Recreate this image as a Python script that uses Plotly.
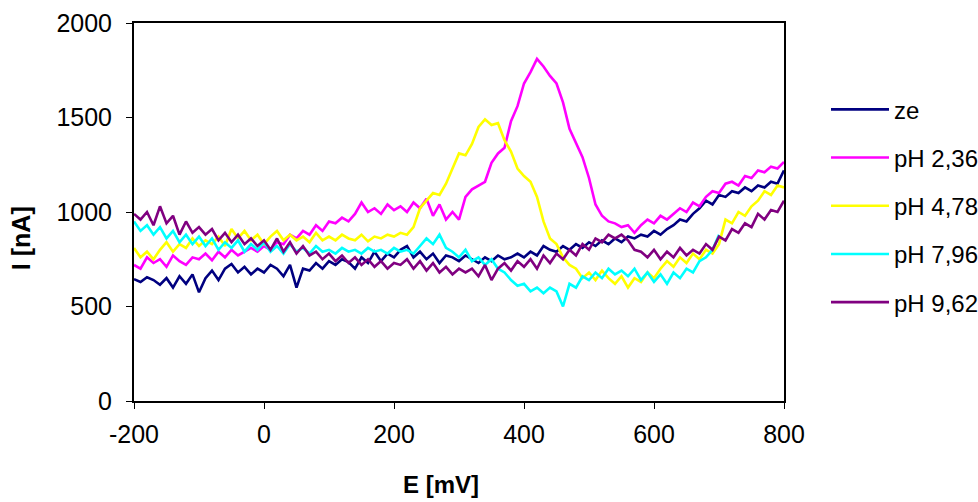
import plotly.graph_objects as go

E_mV = list(range(-200, 801, 10))

x_ticks = [-200, 0, 200, 400, 600, 800]
x_tick_labels = ["-200", "0", "200", "400", "600", "800"]
y_ticks = [0, 500, 1000, 1500, 2000]
y_tick_labels = ["0", "500", "1000", "1500", "2000"]

ze = [645, 630, 655, 640, 615, 650, 600, 660, 620, 670,
      575, 650, 690, 640, 700, 725, 680, 710, 670, 700,
      680, 720, 700, 660, 720, 600, 700, 690, 730, 700,
      740, 720, 750, 735, 700, 760, 730, 790, 740, 780,
      760, 800, 820, 760, 790, 750, 780, 730, 770, 760,
      740, 770, 750, 730, 760, 740, 770, 750, 760, 780,
      760, 790, 770, 820, 800, 790, 820, 800, 830, 810,
      840, 820, 850, 830, 860, 840, 870, 860, 880, 870,
      900, 880, 910, 930, 960, 950, 990, 1020, 1060, 1040,
      1090, 1080, 1110, 1100, 1130, 1110, 1140, 1130, 1160, 1150,
      1220]

ph_236 = [720, 700, 760, 730, 750, 710, 770, 740, 720, 760,
          750, 780, 745, 790, 760, 800, 770, 790, 810, 790,
          820, 800, 840, 830, 880, 860, 900, 880, 930, 900,
          950, 940, 970, 950, 990, 1050, 1000, 1020, 990, 1040,
          1010, 1030, 1000, 1050, 1020, 1070, 980, 1040, 960, 1000,
          960, 1080, 1120, 1140, 1160, 1260, 1310, 1340, 1480, 1560,
          1680, 1740, 1810, 1770, 1720, 1680, 1580, 1440, 1360, 1290,
          1180, 1040, 980, 950, 940, 920, 930, 890, 930, 960,
          940, 980, 960, 990, 1020, 1000, 1050, 1030, 1080, 1110,
          1100, 1150, 1160, 1140, 1190, 1180, 1220, 1210, 1240, 1230,
          1265]

ph_478 = [810, 760, 790, 750, 800, 840, 790, 830, 810, 860,
          820, 850, 830, 870, 820, 910, 860, 900, 850, 880,
          830, 870, 900, 850, 880, 850, 870, 840, 890, 850,
          870, 850, 880, 860, 850, 880, 845, 870, 860, 880,
          870, 890, 880, 920, 1020, 1060, 1100, 1090, 1150, 1230,
          1310, 1300, 1360, 1450, 1490, 1460, 1470, 1380, 1320, 1230,
          1190, 1160, 1080, 950, 860, 830, 760, 720, 700, 650,
          680, 640, 690, 650, 620, 660, 600, 650, 630, 680,
          650, 700, 740, 710, 760, 730, 780, 750, 800, 780,
          830, 960, 940, 1000, 980, 1030, 1060, 1110, 1090, 1140,
          1130]

ph_796 = [950, 900, 930, 880, 920, 860, 900, 840, 880, 830,
          870, 820, 860, 800, 840, 810, 850, 790, 830, 800,
          840, 790, 820, 780, 830, 790, 810, 780, 820, 790,
          800, 780, 810, 790, 800, 780, 810, 790, 800, 780,
          810, 790, 800, 780, 820, 860, 830, 880, 810, 790,
          760, 800, 740, 760, 720, 750, 700, 680, 640, 610,
          620, 580, 600, 570, 600, 580, 500, 620, 600, 660,
          640, 680, 650, 700, 670, 690, 660, 700, 640, 680,
          630, 670, 620, 680, 650, 700, 680, 740, 760, 800,
          880]

ph_962 = [990, 960, 1000, 930, 1030, 940, 980, 880, 950, 890,
          920, 880, 910, 850, 890, 840, 880, 830, 860, 820,
          850, 800, 860, 790, 840, 780, 820, 770, 790, 750,
          780, 740, 770, 730, 760, 720, 750, 710, 740, 700,
          730, 720, 750, 700, 740, 690, 730, 680, 710, 670,
          700, 680, 700, 660, 720, 640, 700, 730, 690, 740,
          710, 750, 700, 770, 730, 780, 750, 800, 770, 830,
          800, 860, 840, 880, 860, 880, 850, 800, 790, 760,
          800, 750, 790, 760, 810, 770, 800, 780, 830, 800,
          870, 850, 910, 890, 940, 920, 990, 960, 1010, 1000,
          1060]

series = [
    ("ze", ze, "#000080"),
    ("pH 2,36", ph_236, "#FF00FF"),
    ("pH 4,78", ph_478, "#FFFF00"),
    ("pH 7,96", ph_796, "#00FFFF"),
    ("pH 9,62", ph_962, "#800080"),
]

FONT = "Liberation Sans, Arial, sans-serif"

fig = go.Figure()
for i, (name, vals, col) in enumerate(series):
    fig.add_trace(go.Scatter(
        x=E_mV[:len(vals)], y=vals, mode="lines", name=name,
        line=dict(color=col, width=2.6), legendgroup=f"g{i}",
    ))

axis_common = dict(
    showline=True, linecolor="black", linewidth=2, mirror=True,
    showgrid=False, zeroline=False, ticks="outside", ticklen=6,
    tickwidth=1, tickcolor="black", tickmode="array",
    tickfont=dict(family=FONT, size=25, color="black"),
)

fig.update_xaxes(range=[-200, 800], tickvals=x_ticks, ticktext=x_tick_labels,
                 ticklabelstandoff=4, **axis_common)
fig.update_yaxes(range=[0, 2000], tickvals=y_ticks, ticktext=y_tick_labels,
                 ticklabelstandoff=9, **axis_common)

fig.update_layout(
    width=978, height=502,
    margin=dict(l=134, r=194, t=23, b=101, autoexpand=False),
    plot_bgcolor="white", paper_bgcolor="white",
    showlegend=True,
    legend=dict(
        x=(826 - 134) / 650, y=0.83, xanchor="left", yanchor="top",
        traceorder="grouped", tracegroupgap=14,
        itemwidth=58,
        font=dict(family=FONT, size=24, color="black"),
        bgcolor="rgba(0,0,0,0)", borderwidth=0,
    ),
    annotations=[
        dict(text="<b>I [nA]</b>", xref="paper", yref="paper",
             x=(21 - 134) / 650, y=(401 - 238) / 378.3,
             xanchor="center", yanchor="middle", textangle=-90,
             showarrow=False,
             font=dict(family=FONT, size=25, color="black")),
        dict(text="<b>E [mV]</b>", xref="paper", yref="paper",
             x=(441 - 134) / 650, y=(401 - 485) / 378.3,
             xanchor="center", yanchor="middle",
             showarrow=False,
             font=dict(family=FONT, size=24, color="black")),
    ],
)

fig.write_html("out.html")
